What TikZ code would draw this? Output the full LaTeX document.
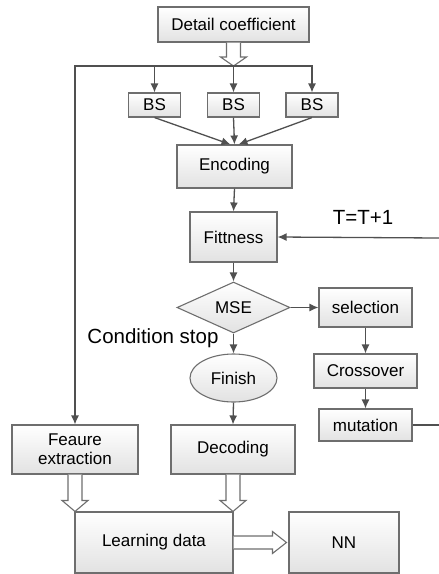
\documentclass[tikz,border=0pt]{standalone}
\usepackage{fontspec}
\setmainfont{Liberation Sans}
\usepackage{tikz}
\usetikzlibrary{shapes.geometric}
\usetikzlibrary{%
  calc,%
  arrows.meta%
}
\definecolor{linegray}{RGB}{80,80,80}
\definecolor{boxgray}{RGB}{110,110,110}
\definecolor{fillgray}{RGB}{226,226,226}

\begin{document}
\begin{tikzpicture}[x=1pt,y=-1pt,
  box/.style={draw=boxgray,line width=1.1pt,top color=white,bottom color=fillgray,
    inner sep=0pt,font=\fontsize{17}{19}\selectfont,align=center},
  arr/.style={draw=linegray,line width=1.3pt,-{Latex[length=9pt,width=8pt]}},
  plain/.style={draw=linegray,line width=1.3pt},
  fat/.style={draw=boxgray,line width=1.1pt,fill=white}]
\useasboundingbox (0,0) rectangle (439,574);

\node[box,minimum width=151,minimum height=35] (det) at (233.5,24.5) {Detail coefficient};
\node[box,minimum width=52,minimum height=24] (bs1) at (154.5,105) {BS};
\node[box,minimum width=52,minimum height=24] (bs2) at (233.5,105) {BS};
\node[box,minimum width=52,minimum height=24] (bs3) at (312,105) {BS};
\node[box,minimum width=115,minimum height=43] (enc) at (234.5,166.5) {Encoding};
\node[box,minimum width=87,minimum height=50] (fit) at (233.5,237) {Fittness};
\node[box,diamond,aspect=2.2,minimum width=113,minimum height=51] (mse) at (233.5,307.5) {MSE};
\node[box,minimum width=93,minimum height=39] (sel) at (365.5,307.5) {selection};
\node[box,minimum width=103,minimum height=34] (cross) at (365.5,371) {Crossover};
\node[box,minimum width=93,minimum height=32] (mut) at (365.5,425) {mutation};
\node[box,ellipse,minimum width=87,minimum height=48] (fin) at (233.5,378) {Finish};
\node[box,minimum width=124,minimum height=49] (dec) at (233,449.5) {Decoding};
\node[box,minimum width=126,minimum height=49] (feat) at (75,449.5) {Feaure\\extraction};
\node[box,minimum width=158,minimum height=61] (learn) at (154,542.5) {Learning data};
\node[box,minimum width=110,minimum height=61] (nn) at (344,542.5) {NN};

\node[font=\fontsize{20.5}{23}\selectfont] (stop) at (153,338) {Condition stop};
\node[font=\fontsize{20.5}{23}\selectfont] (tinc) at (363,217) {T=T+1};

\coordinate (split) at (233.5,66);
\coordinate (loopin) at (439,238);
\coordinate (loopout) at (439,425);

% split of the coefficients
\draw[fat] let \p1=(det.south), \p2=(split) in
(\x1-7,\y1) -- (\x1-7,\y2+9) -- (\x1-13,\y2+9) -- (\x1,\y2)
-- (\x1+13,\y2+9) -- (\x1+7,\y2+9) -- (\x1+7,\y1);
\draw[arr] (split) -| (feat.north);
\draw[arr] (split) -| (bs1.north);
\draw[arr] (split) -- (bs2.north);
\draw[arr] (split) -| (bs3.north);

% genetic loop
\draw[arr] (bs1.south) -- ($(enc.north)+(-4,0)$);
\draw[arr] (bs2.south) -- (enc.north);
\draw[arr] (bs3.south) -- ($(enc.north)+(4,0)$);
\draw[arr] (enc.south) -- (fit.north);
\draw[arr] (fit.south) -- (mse.north);
\draw[arr] (mse.east) -- (sel.west);
\draw[arr] (sel.south) -- (cross.north);
\draw[arr] (cross.south) -- (mut.north);
\draw[plain] (mut.east) -- (loopout);
\draw[arr] (loopin) -- (fit.east);
\draw[arr] (mse.south) -- (fin.north);
\draw[arr] (fin.south) -- (dec.north);

% learning
\draw[fat] let \p1=(feat.south), \p2=(learn.north west) in
(\x1-7,\y1) -- (\x1-7,\y2+11) -- (\x1-13,\y2+11) -- (\x1,\y2)
-- (\x1+13,\y2+11) -- (\x1+7,\y2+11) -- (\x1+7,\y1);
\draw[fat] let \p1=(dec.south), \p2=(learn.north east) in
(\x1-7,\y1) -- (\x1-7,\y2+11) -- (\x1-13,\y2+11) -- (\x1,\y2)
-- (\x1+13,\y2+11) -- (\x1+7,\y2+11) -- (\x1+7,\y1);
\draw[fat] let \p1=(learn.east), \p2=(nn.west) in
(\x1,\y1+6.5) -- (\x2-16,\y1+6.5) -- (\x2-16,\y1+11) -- (\x2-2,\y1)
-- (\x2-16,\y1-11) -- (\x2-16,\y1-6.5) -- (\x1,\y1-6.5);
\end{tikzpicture}
\end{document}
